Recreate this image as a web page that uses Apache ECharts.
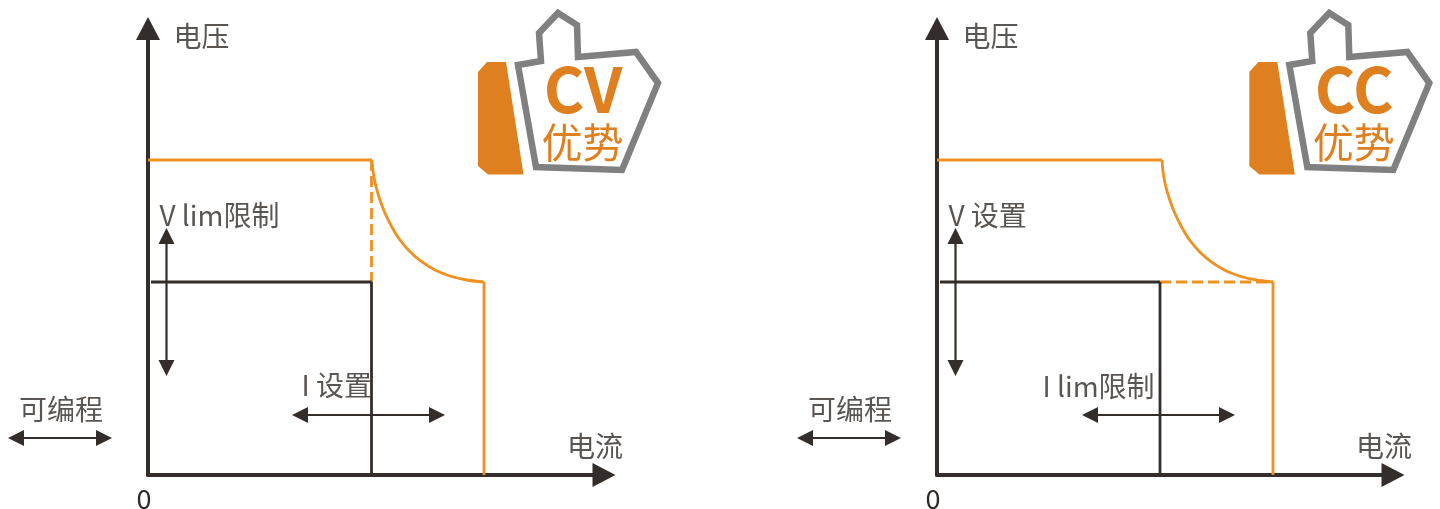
<!DOCTYPE html>
<html>
<head>
<meta charset="utf-8">
<style>html,body{margin:0;padding:0;background:#fff}#c{width:1440px;height:509px}</style>
<script src="https://cdn.jsdelivr.net/npm/echarts@6/dist/echarts.min.js"></script>
</head>
<body>
<div id="c"></div>
<script>
// Diagram values, [current, voltage]
const flatLeft = [[0, 315], [224, 315]];
const curveLeft = [[224, 315], [225.3, 301.7], [228, 288.3], [232, 275], [237, 261.7], [243.7, 248.3], [252, 235], [262, 223.3], [273.7, 213.3], [287, 205], [302, 199], [318.7, 195], [336, 193]];
const dropLeft = [[336, 193], [336, 0]];
const setHLeft = [[3, 193], [223.5, 193]];
const setVLeft = [[223.5, 193], [223.5, 0]];
const dashLeft = [[223.5, 315], [223.5, 193]];

const flatRight = [[0, 315], [225, 315]];
const curveRight = [[225, 315], [226.2, 301.7], [228.8, 288.3], [232.8, 275], [237.8, 261.7], [244.5, 248.3], [252.6, 235], [262.5, 223.3], [274, 213.3], [287.2, 205], [302.2, 199], [318.8, 195], [336, 193]];
const dropRight = [[336, 193], [336, 0]];
const setHRight = [[3, 193], [223, 193]];
const setVRight = [[223, 193], [223, 0]];
const dashRight = [[223, 193], [336, 193]];

const arrowV = [[18.5, 239], [18.5, 107]];
const arrowProg = [[-132, 37], [-44, 37]];
const arrowHLeft = [[152, 60], [289, 60]];
const arrowHRight = [[153, 60], [290, 60]];

const labelsLeft = [['电压', 25, 439], ['电流', 418.5, 29], ['V lim限制', 11, 260], ['I 设置', 153, 90]];
const labelsRight = [['电压', 25, 439], ['电流', 418.5, 29], ['V 设置', 11, 260], ['I lim限制', 105, 89]];
const labelsProg = [['可编程', -129.5, 66]];

const INK = '#332e2b', ORANGE = '#f0901e', BADGE = '#df8020', GREY = '#808080', TEXT = '#2f2a27';
const FONT = '"Noto Sans CJK SC","Noto Sans",sans-serif';

function line(g, data, color, type) {
  return {
    type: 'line', xAxisIndex: g, yAxisIndex: g, data, clip: false, symbol: 'none', smooth: false, silent: true,
    lineStyle: { color, width: 2.8, type: type || 'solid', cap: 'butt' }, z: color === INK ? 3 : 2
  };
}
function curve(g, data) {
  const s = line(g, data, ORANGE);
  s.smooth = 0.25;
  return s;
}
function arrow(g, pts) {
  const horizontal = pts[0][1] === pts[1][1];
  return {
    type: 'line', xAxisIndex: g, yAxisIndex: g, clip: false, silent: true, showAllSymbol: true, z: 4,
    symbol: 'triangle', symbolSize: [16, 16],
    lineStyle: { color: INK, width: 2.2 }, itemStyle: { color: INK },
    data: pts.map((p, i) => ({
      value: p,
      symbolRotate: horizontal ? (i === 0 ? 90 : -90) : (i === 0 ? 0 : 180)
    }))
  };
}
function labels(g, rows) {
  return {
    type: 'scatter', xAxisIndex: g, yAxisIndex: g, clip: false, silent: true, symbolSize: 1, z: 5,
    itemStyle: { color: 'transparent' },
    label: { show: true, position: 'right', distance: 0, formatter: '{b}', color: TEXT, fontSize: 28, fontFamily: FONT },
    data: rows.map(r => ({ name: r[0], value: [r[1], r[2]] }))
  };
}
function xAxis(g) {
  return {
    type: 'value', gridIndex: g, min: 0, max: 456, interval: 456,
    splitLine: { show: false }, axisTick: { show: false },
    axisLine: { show: true, onZero: false, symbol: ['none', 'triangle'], symbolSize: [24, 23], lineStyle: { color: INK, width: 4 } },
    axisLabel: { color: TEXT, fontSize: 27, fontFamily: FONT, margin: 10, padding: [0, 8, 0, 0],
      formatter: v => v === 0 ? '0' : '' }
  };
}
function yAxis(g) {
  return {
    type: 'value', gridIndex: g, min: 0, max: 446.5, interval: 446.5,
    splitLine: { show: false }, axisTick: { show: false }, axisLabel: { show: false },
    axisLine: { show: true, onZero: false, symbol: ['none', 'triangle'], symbolSize: [24, 23], lineStyle: { color: INK, width: 4 } }
  };
}
function sideX(g) {
  return { type: 'value', gridIndex: g, min: -148, max: 0, show: false };
}
function sideY(g) {
  return { type: 'value', gridIndex: g, min: 0, max: 446.5, show: false };
}
function badge(dx, word) {
  return {
    type: 'group', x: dx, y: 0, silent: true,
    children: [
      { type: 'polygon', shape: { points: [[478, 72], [487, 62], [506, 62], [523.5, 174.5], [488, 174.5], [478, 166]] }, style: { fill: BADGE } },
      { type: 'polygon', shape: { points: [[518, 65], [541, 61], [539, 33], [558, 13], [577, 25], [578, 57], [636, 52], [658, 83], [622, 170], [536, 167]] },
        style: { fill: 'none', stroke: GREY, lineWidth: 6.5, lineJoin: 'miter' } },
      { type: 'text', style: { text: word, x: 583, y: 89, align: 'center', verticalAlign: 'middle', fill: BADGE, font: 'bold 62px ' + FONT } },
      { type: 'text', style: { text: '优势', x: 582.5, y: 142, align: 'center', verticalAlign: 'middle', fill: BADGE, font: '41px ' + FONT } }
    ]
  };
}
const gridBase = { top: 28.5, height: 446.5, containLabel: false, outerBoundsMode: 'none' };

const option = {
  animation: false,
  backgroundColor: '#fff',
  grid: [
    Object.assign({ left: 148, width: 456 }, gridBase),
    Object.assign({ left: 937, width: 456 }, gridBase),
    Object.assign({ left: 0, width: 148 }, gridBase),
    Object.assign({ left: 789, width: 148 }, gridBase)
  ],
  xAxis: [xAxis(0), xAxis(1), sideX(2), sideX(3)],
  yAxis: [yAxis(0), yAxis(1), sideY(2), sideY(3)],
  series: [
    line(0, flatLeft, ORANGE), curve(0, curveLeft), line(0, dropLeft, ORANGE),
    line(0, dashLeft, ORANGE, [11, 5]), line(0, setHLeft, INK), line(0, setVLeft, INK),
    arrow(0, arrowV), arrow(0, arrowHLeft), labels(0, labelsLeft),
    arrow(2, arrowProg), labels(2, labelsProg),
    line(1, flatRight, ORANGE), curve(1, curveRight), line(1, dropRight, ORANGE),
    line(1, dashRight, ORANGE, [11, 5]), line(1, setHRight, INK), line(1, setVRight, INK),
    arrow(1, arrowV), arrow(1, arrowHRight), labels(1, labelsRight),
    arrow(3, arrowProg), labels(3, labelsProg)
  ],
  graphic: [badge(0, 'CV'), badge(771.3, 'CC')]
};
const chart = echarts.init(document.getElementById('c'), null, { renderer: 'canvas' });
chart.setOption(option);
</script>
</body>
</html>
